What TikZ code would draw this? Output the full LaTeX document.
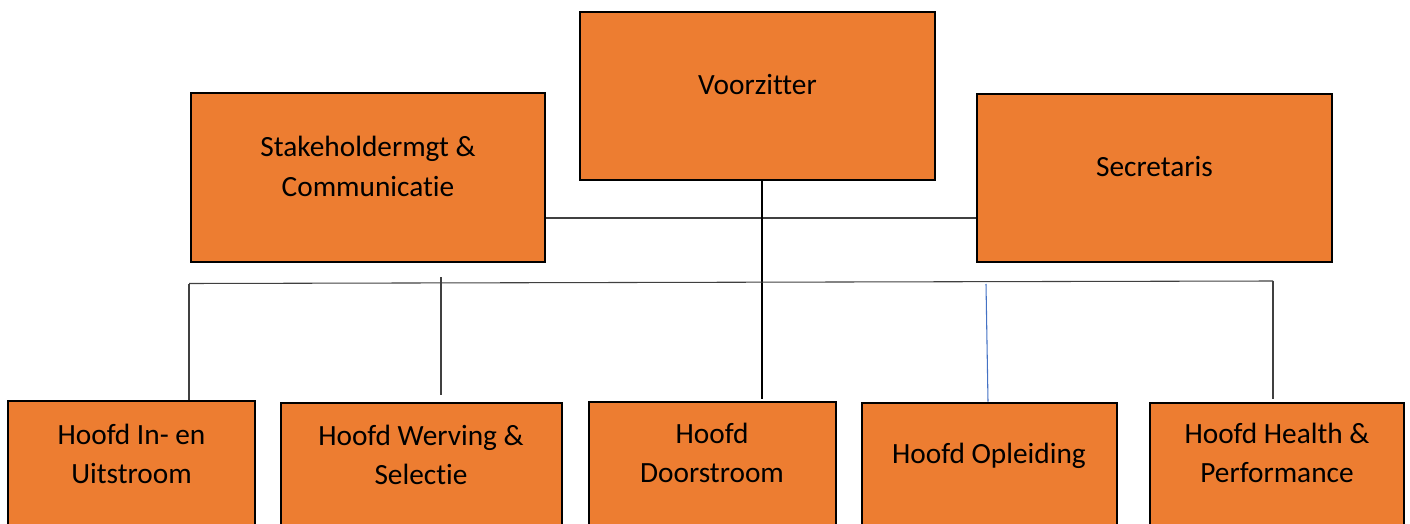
\documentclass[tikz,border=0pt]{standalone}
\usepackage{fontspec}
\setmainfont{Carlito}[Ligatures=NoCommon]
\usetikzlibrary{fit,calc}

\definecolor{boxorange}{HTML}{ED7D31}
\definecolor{linegrey}{HTML}{404040}
\definecolor{linkblue}{HTML}{4472C4}

\tikzset{
  orgbox/.style={draw=black, line width=2.2pt, fill=boxorange, inner sep=0pt},
  orgtext/.style={anchor=base, align=center, inner sep=0pt, font=\fontsize{22}{29.25}\selectfont},
  link/.style={draw=linegrey, line width=0.8pt},
}

\begin{document}
\begin{tikzpicture}[x=0.75pt,y=-0.75pt]
\clip (0,0) rectangle (1410,524);
% bestuur
\node[orgbox, fit={(580,12) (935,180)}] (voorz) {};
\node[orgbox, fit={(191,93) (545,262)}] (stake) {};
\node[orgbox, fit={(977,94) (1332,262)}] (secr) {};
% hoofden
\node[orgbox, fit={(8,401) (255,540)}] (inuit) {};
\node[orgbox, fit={(281,403) (562,540)}] (werv) {};
\node[orgbox, fit={(589,402) (836,540)}] (door) {};
\node[orgbox, fit={(862,403) (1117,540)}] (opl) {};
\node[orgbox, fit={(1150,403) (1404,540)}] (health) {};
% teksten (base = onderste regel)
\node[orgtext] (voorz-t) at (757.5,95) {Voorzitter};
\node[orgtext] (stake-t) at (368,196) {Stakeholdermgt \&\\Communicatie};
\node[orgtext] (secr-t) at (1154.5,176) {Secretaris};
\node[orgtext] (inuit-t) at (131.5,483) {Hoofd In- en\\Uitstroom};
\node[orgtext] (werv-t) at (421,484) {Hoofd Werving \&\\Selectie};
\node[orgtext] (door-t) at (712,482) {Hoofd\\Doorstroom};
\node[orgtext] (opl-t) at (989,463) {Hoofd Opleiding};
\node[orgtext] (health-t) at (1277,482) {Hoofd Health \&\\Performance};
% lijnen
\coordinate (trunk) at (762,218);
\coordinate (bus-l) at (189,283.5);
\coordinate (bus-r) at (1273,281);
\coordinate (werv-top) at (441,277);
\coordinate (opl-top) at (986,284);
\draw[link] (stake.east |- trunk) -- (secr.west |- trunk);
\draw[link, draw=black] (voorz.south -| trunk) -- ($(door.north -| trunk)+(0,-2)$);
\draw[link] (bus-l) -- (bus-r);
\draw[link] (bus-l) -- (inuit.north -| bus-l);
\draw[link] (werv-top) -- ($(werv.north -| werv-top)+(0,-7)$);
\draw[link, draw=linkblue] (opl-top) -- ($(opl.north -| opl-top)+(2,0)$);
\draw[link] (bus-r) -- ($(health.north -| bus-r)+(0,-3)$);
\end{tikzpicture}
\end{document}
